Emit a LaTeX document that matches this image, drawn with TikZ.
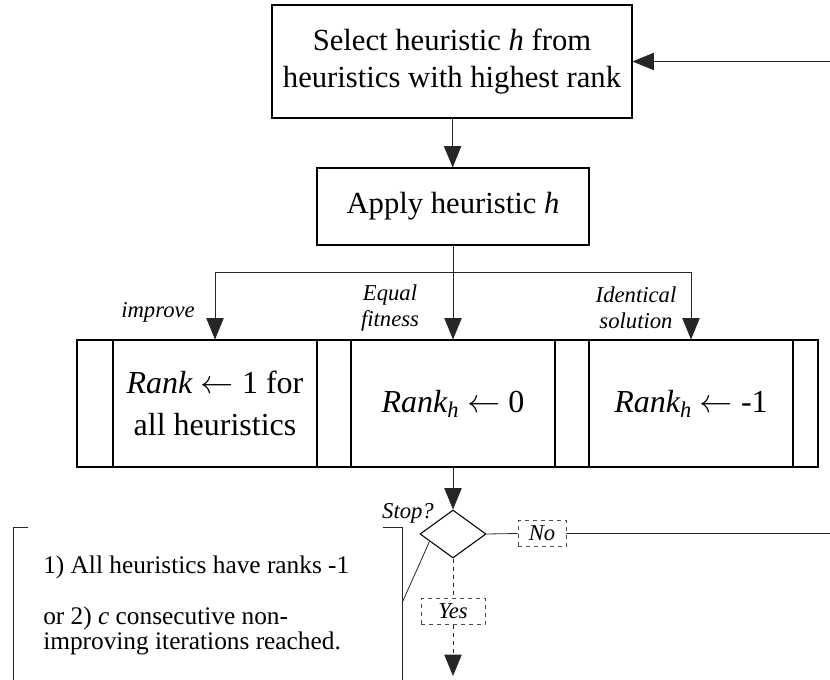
\documentclass[tikz,border=0pt]{standalone}
\usepackage{fontspec}
\setmainfont{Liberation Serif}
\newfontfamily\flowfont{Liberation Serif}
\usetikzlibrary{arrows.meta,shapes.geometric,calc}

\begin{document}
\begin{tikzpicture}[x=0.75pt,y=-0.75pt,
    box/.style={draw,line width=0.8pt,inner sep=0pt,align=center,font=\flowfont\fontsize{23}{28}\selectfont},
    rankbox/.style={box,minimum width=153pt,minimum height=95.25pt,font=\flowfont\fontsize{24}{32}\selectfont},
    lbl/.style={font=\flowfont\fontsize{17}{19.5}\selectfont\itshape,align=center,inner sep=0pt},
    tagbox/.style={lbl,draw=black!70,dashed,line width=0.6pt,minimum height=20pt},
    conn/.style={draw=black!85,line width=0.6pt},
    arr/.style={conn,-{Triangle[length=16pt,width=13pt]}},
    ]
  \useasboundingbox (0,0) rectangle (830,680);
  \node[box,minimum width=270pt,minimum height=84.75pt] (select) at (452,61.5) {Select heuristic \textit{h} from\\heuristics with highest rank};
  \node[box,minimum width=204pt,minimum height=57.75pt] (apply) at (453,206.5) {Apply heuristic \textit{h}};
  \node[rankbox] (rone) at (215,403.5) {\textit{Rank} $\leftarrow$ 1 for\\all heuristics};
  \node[rankbox] (rzero) at (453,403.5) {\textit{Rank\textsubscript{h}} $\leftarrow$ 0};
  \node[rankbox] (rminus) at (691,403.5) {\textit{Rank\textsubscript{h}} $\leftarrow$ -1};
  \draw[line width=0.8pt] (77,340) rectangle (818,467);
  \node[draw,diamond,line width=0.8pt,minimum width=49.5pt,minimum height=36pt,inner sep=0pt] (stop) at (453,534) {};
  \node[lbl] (stoplbl) at (408,513) {Stop?};
  \node[tagbox,minimum width=36pt] (nobox) at (542,533.5) {No};
  \node[tagbox,minimum width=48pt] (yesbox) at (453,611.5) {Yes};
  \node[lbl,anchor=east] (improve) at (195,312) {improve};
  \node[lbl] (equal) at (390,308) {Equal\\fitness};
  \node[lbl] (ident) at (636,308) {Identical\\solution};
  \node[font=\flowfont\fontsize{19}{19}\selectfont,align=left,anchor=west,inner sep=0pt] (note) at (43,605.5) {1) All heuristics have ranks -1\\[19pt]or 2) \textit{c} consecutive non-\\improving iterations reached.};
  \coordinate (split) at (453,272);
  \coordinate (backin) at (830,61.5);
  \coordinate (noend) at (830,533.5);
  \coordinate (yesend) at (453,676);
  \coordinate (hook) at (402,603);
  \draw[arr] (backin) -- (select.east);
  \draw[arr] (select) -- (apply);
  \draw[conn] (apply.south) -- (split);
  \draw[arr] (split) -| (rone.north);
  \draw[arr] (split) -| (rminus.north);
  \draw[arr] (split) -- (rzero.north);
  \draw[arr] (rzero.south) -- (stop.north);
  \draw[conn] (stop.east) -- (nobox.west) (nobox.east) -- (noend);
  \draw[conn,dashed] (stop.south) -- (yesbox.north);
  \draw[arr,dashed] (yesbox.south) -- (yesend);
  \draw[conn] (28,527) -| (13,680);
  \draw[conn] (383,527) -| (402,680);
  \draw[conn] ($(stop.west)!0.3!(stop.south)$) -- (hook);
\end{tikzpicture}
\end{document}
